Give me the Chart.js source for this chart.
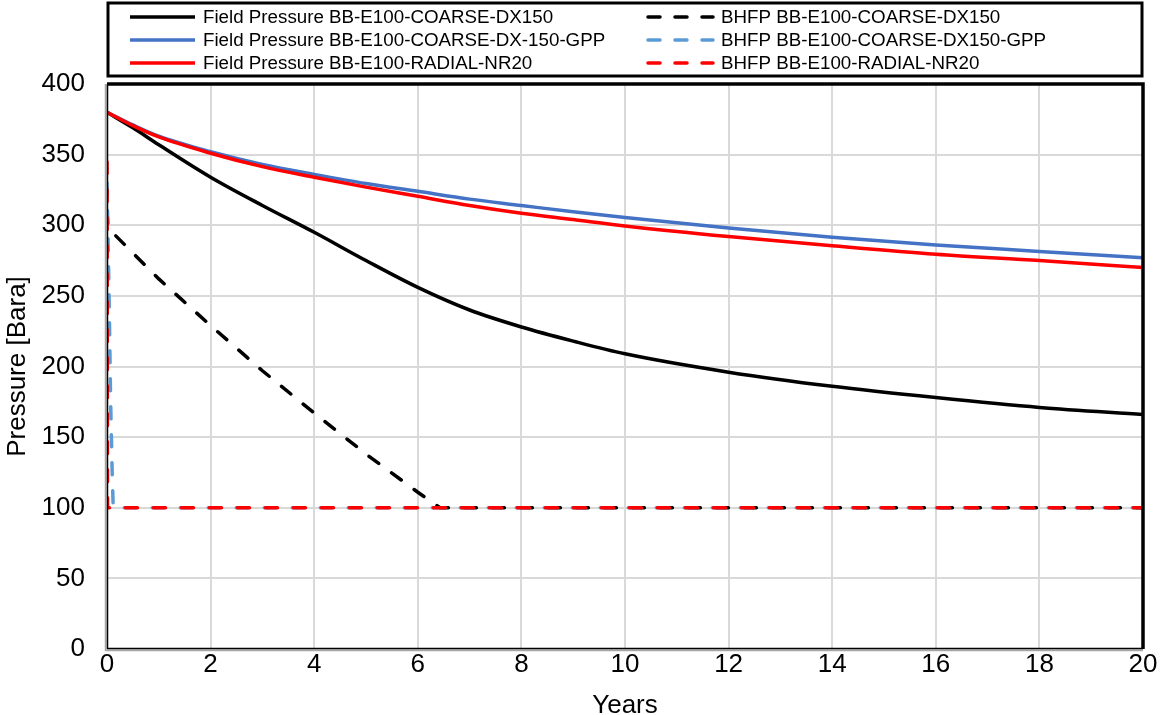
<!DOCTYPE html>
<html>
<head>
<meta charset="utf-8">
<title>Pressure</title>
<script src="https://cdn.jsdelivr.net/npm/chart.js@4.4.1/dist/chart.umd.min.js"></script>
<style>
    body { margin: 0; background: #fff; }
    canvas { display: block; }
</style>
</head>
<body>
<canvas id="pressureChart" width="1161" height="715"></canvas>
<script>
// Field pressure curves (years -> bara)
const fieldYears = [0, 0.5, 1, 2, 3, 4, 5, 6, 7, 8, 9, 10, 12, 14, 16, 18, 20];
const fieldDx150 = [380, 369, 357, 334, 314, 295, 275, 256, 240, 228, 218, 209, 196, 186, 178, 171, 166];
const fieldGpp = [380, 371, 363, 352, 343, 336, 329.5, 324, 318.5, 314, 309.5, 305.5, 298, 291.5, 286, 281.5, 277];
const fieldRadial = [380, 370.5, 362.5, 351, 341.5, 334, 327, 320.5, 314, 308.5, 304, 299.5, 292, 285.5, 279.5, 275, 270];

// Bottom hole flowing pressure
const bhfpDx150Years = [0, 0.02, 1, 2, 3, 4, 5, 6, 6.43, 20];
const bhfpDx150 = [310, 298, 262, 229, 197, 167, 138, 111, 100, 100];
const bhfpGppYears = [0, 0.04, 0.07, 0.1, 0.12, 20];
const bhfpGpp = [330, 250, 175, 125, 100, 100];
const bhfpRadialYears = [0, 0.01, 20];
const bhfpRadial = [345, 100, 100];

const FONT = "'Liberation Sans', Arial, sans-serif";

function toPoints(xs, ys) {
    return xs.map((x, i) => ({ x: x, y: ys[i] }));
}

function solid(label, xs, ys, color, order) {
    return {
        label: label,
        data: toPoints(xs, ys),
        borderColor: color,
        borderWidth: 3.5,
        pointRadius: 0,
        showLine: true,
        cubicInterpolationMode: 'monotone',
        order: order
    };
}

function dashed(label, xs, ys, color, order) {
    return {
        label: label,
        data: toPoints(xs, ys),
        borderColor: color,
        borderWidth: 3.5,
        borderDash: [12, 16],
        borderCapStyle: 'round',
        pointRadius: 0,
        showLine: true,
        tension: 0,
        order: order
    };
}

// Boxed two-column legend above the plot
const boxLegend = {
    id: 'boxLegend',
    afterDraw(chart) {
        const ctx = chart.ctx;
        const ds = chart.data.datasets;
        ctx.save();
        ctx.strokeStyle = '#000';
        ctx.lineWidth = 3;
        ctx.strokeRect(108, 3, 1034, 73);
        ctx.font = '18.75px ' + FONT;
        ctx.textBaseline = 'middle';
        ctx.fillStyle = '#000';
        const rows = [17, 40, 63];
        const cols = [128, 646];
        ds.forEach((d, i) => {
            const col = cols[i % 2];
            const y = rows[Math.floor(i / 2)];
            ctx.beginPath();
            ctx.strokeStyle = d.borderColor;
            ctx.lineWidth = 3.5;
            ctx.lineCap = d.borderDash ? 'round' : 'butt';
            ctx.setLineDash(d.borderDash ? [12, 15] : []);
            ctx.moveTo(col + 2, y);
            ctx.lineTo(col + 67, y);
            ctx.stroke();
            ctx.setLineDash([]);
            ctx.fillText(d.label, col + 75, y + 1);
        });
        ctx.restore();
    }
};

// Plot frame: heavy top/right edges, doubled axis lines on left/bottom
const plotFrame = {
    id: 'plotFrame',
    afterDatasetsDraw(chart) {
        const { left, right, top, bottom } = chart.chartArea;
        const ctx = chart.ctx;
        ctx.save();
        ctx.strokeStyle = '#000';
        ctx.lineWidth = 3.5;
        ctx.beginPath();
        ctx.moveTo(left, top);
        ctx.lineTo(right, top);
        ctx.lineTo(right, bottom);
        ctx.stroke();
        ctx.strokeStyle = '#a6a6a6';
        ctx.lineWidth = 1.5;
        ctx.beginPath();
        ctx.moveTo(left - 1.5, top);
        ctx.lineTo(left - 1.5, bottom + 1.5);
        ctx.lineTo(right, bottom + 1.5);
        ctx.stroke();
        ctx.strokeStyle = '#000';
        ctx.lineWidth = 1.5;
        ctx.beginPath();
        ctx.moveTo(left + 0.5, top);
        ctx.lineTo(left + 0.5, bottom - 0.5);
        ctx.lineTo(right, bottom - 0.5);
        ctx.stroke();
        ctx.restore();
    }
};

const ctx = document.getElementById('pressureChart').getContext('2d');
const chart = new Chart(ctx, {
    type: 'scatter',
    data: {
        datasets: [
            solid('Field Pressure BB-E100-COARSE-DX150', fieldYears, fieldDx150, '#000000', 6),
            dashed('BHFP BB-E100-COARSE-DX150', bhfpDx150Years, bhfpDx150, '#000000', 5),
            solid('Field Pressure BB-E100-COARSE-DX-150-GPP', fieldYears, fieldGpp, '#4472C4', 4),
            dashed('BHFP BB-E100-COARSE-DX150-GPP', bhfpGppYears, bhfpGpp, '#5B9BD5', 3),
            solid('Field Pressure BB-E100-RADIAL-NR20', fieldYears, fieldRadial, '#FF0000', 2),
            dashed('BHFP BB-E100-RADIAL-NR20', bhfpRadialYears, bhfpRadial, '#FF0000', 1)
        ]
    },
    options: {
        responsive: false,
        animation: false,
        layout: { padding: { top: 84, right: 18, left: 0, bottom: 0 } },
        plugins: {
            legend: { display: false },
            tooltip: { enabled: false }
        },
        scales: {
            x: {
                type: 'linear',
                min: 0,
                max: 20,
                ticks: { stepSize: 2, color: '#000', padding: 0, font: { family: FONT, size: 26 } },
                grid: { color: '#d9d9d9', lineWidth: 2, drawTicks: false },
                border: { display: false },
                title: { display: true, text: 'Years', color: '#000', padding: { top: 0, bottom: -6 }, font: { family: FONT, size: 26 } },
                afterFit(scale) { scale.height = 66; }
            },
            y: {
                min: 0,
                max: 400,
                ticks: { stepSize: 50, color: '#000', padding: 22, font: { family: FONT, size: 26 } },
                grid: { color: '#d9d9d9', lineWidth: 2, drawTicks: false },
                border: { display: false },
                title: { display: true, text: 'Pressure [Bara]', color: '#000', padding: { top: 2, bottom: 0 }, font: { family: FONT, size: 26 } },
                afterFit(scale) { scale.width = 107; }
            }
        }
    },
    plugins: [boxLegend, plotFrame]
});
</script>
</body>
</html>
